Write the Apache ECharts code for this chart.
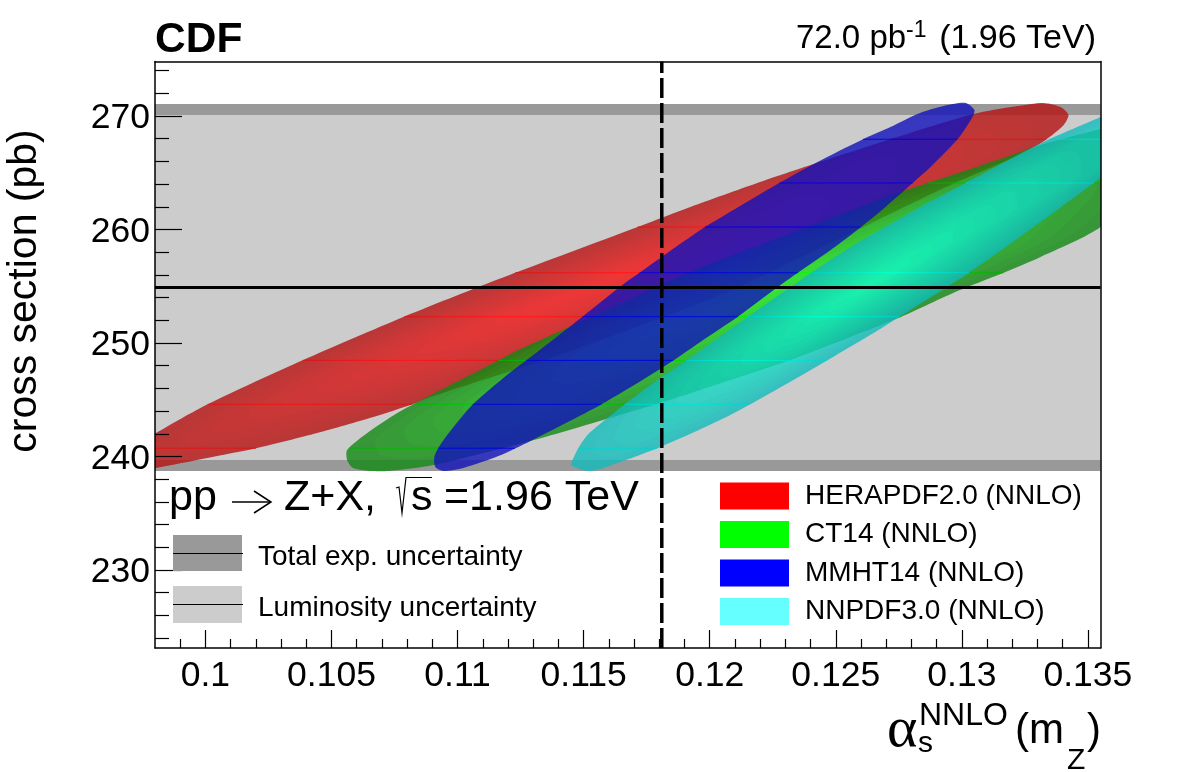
<!DOCTYPE html>
<html>
<head>
<meta charset="utf-8">
<style>html,body{margin:0;padding:0;background:#fff}#main{width:1196px;height:772px}</style>
<script src="https://cdn.jsdelivr.net/npm/echarts@6/dist/echarts.min.js"></script>
</head>
<body>
<div id="main"></div>
<script>
// axis ticks
var xMajor = [0.1, 0.105, 0.11, 0.115, 0.12, 0.125, 0.13, 0.135];
var xMinor = [0.099, 0.101, 0.102, 0.103, 0.104, 0.106, 0.107, 0.108, 0.109, 0.111, 0.112, 0.113, 0.114, 0.116, 0.117, 0.118, 0.119,
  0.121, 0.122, 0.123, 0.124, 0.126, 0.127, 0.128, 0.129, 0.131, 0.132, 0.133, 0.134];
var yMajor = [230, 240, 250, 260, 270];
var yMinor = [224, 226, 228, 232, 234, 236, 238, 242, 244, 246, 248, 252, 254, 256, 258, 262, 264, 266, 268, 272, 274];

// measurement
var crossSection = 254.9;
var alphaS = 0.1181;
var expBands = [[238.72, 239.69], [270.09, 271.06]];
var lumiBands = [[239.69, 270.09]];

// outlines of the contours (alpha_s, sigma)
var heraOutline = [[0.0963,238.81],[0.09642,239.87],[0.09701,240.57],[0.09804,242.07],[0.10011,244.63],[0.10388,248.5],[0.10785,252.29],
  [0.11102,255.11],[0.11237,256.26],[0.11725,260.31],[0.11923,261.98],[0.12189,264.1],[0.12412,265.77],[0.12757,268.24],[0.13046,270.18],
  [0.13221,270.88],[0.13324,271.15],[0.13392,270.79],[0.13423,270.09],[0.13404,269.21],[0.13332,267.89],[0.13245,266.74],[0.12955,263.92],
  [0.12666,260.84],[0.12479,258.81],[0.12122,255.02],[0.11991,253.79],[0.11804,252.2],[0.11459,249.38],[0.11201,247.44],[0.11062,246.48],
  [0.10892,245.24],[0.10824,244.63],[0.10666,243.48],[0.10443,242.07],[0.10205,240.75],[0.10007,239.87],[0.09804,238.99],[0.09701,238.63]];
var ct14Outline = [[0.10562,239.69],[0.10562,240.57],[0.10642,242.07],[0.10761,243.83],[0.10864,245.07],[0.11142,248.24],[0.11241,249.38],
  [0.11408,251.06],[0.11459,251.59],[0.11654,253.52],[0.11804,255.11],[0.11991,256.87],[0.12388,260.22],[0.12566,261.72],[0.12757,263.3],
  [0.13046,265.42],[0.13221,266.74],[0.13312,267.44],[0.1355,268.85],[0.13709,269.65],[0.13789,268.33],[0.13749,264.8],[0.1355,260.22],
  [0.13312,257.58],[0.13154,256.08],[0.12983,254.58],[0.12757,252.29],[0.1232,248.5],[0.12082,246.74],[0.11816,244.8],[0.11578,243.22],
  [0.11289,241.37],[0.10904,239.25],[0.10725,238.72],[0.10666,238.72],[0.10586,238.99]];
var mmhtOutline = [[0.10912,239.07],[0.10908,239.96],[0.10931,241.01],[0.10995,242.9],[0.11062,244.63],[0.11201,247.27],[0.11316,249.21],
  [0.11459,251.67],[0.11654,255.11],[0.11804,257.49],[0.11975,260.13],[0.12094,261.72],[0.12269,264.01],[0.12451,266.21],[0.12618,268.06],
  [0.12717,269.03],[0.12824,270.18],[0.12927,270.88],[0.13015,271.15],[0.1305,270.53],[0.13042,269.91],[0.12987,268.06],[0.12876,265.51],[0.12796,263.92],
  [0.12669,261.45],[0.12507,258.63],[0.12281,255.11],[0.1211,252.29],[0.11963,250.09],[0.11804,247.71],[0.11566,244.54],[0.11289,241.37],
  [0.11162,240.04],[0.11023,238.99],[0.10943,238.72]];
var nnpdfOutline = [[0.11451,239.25],[0.11475,240.57],[0.11515,241.89],[0.11594,243.39],[0.11685,244.98],[0.11804,246.92],[0.11876,247.97],
  [0.1215,252.29],[0.12332,255.11],[0.12546,258.28],[0.12757,261.01],[0.12848,262.16],[0.13023,264.19],[0.13245,266.83],[0.1334,267.89],
  [0.1355,269.91],[0.13689,271.41],[0.13789,271.41],[0.13808,268.77],[0.1355,264.54],[0.13285,260.22],[0.13027,256.17],[0.12808,253.08],
  [0.1265,250.88],[0.12332,246.74],[0.12082,243.66],[0.11804,240.84],[0.11578,238.99],[0.11519,238.72],[0.11475,238.99]];

// thin brighter lines that run across the contours
var seamLevels = [240.73, 244.6, 248.47, 252.32, 256.19, 260.22, 264.1, 267.95];

var pdfNames = ['HERAPDF2.0 (NNLO)', 'CT14 (NNLO)', 'MMHT14 (NNLO)', 'NNPDF3.0 (NNLO)'];
var pdfSwatches = ['#ff0000', '#00ff00', '#0000ff', '#66ffff'];

var FONT = '"Liberation Sans", Arial, sans-serif';
var LAYERS = 14;

function bandRender(color) {
  return function (params, api) {
    var a = api.coord([api.value(0), api.value(1)]);
    var rect = api.coord([0.1355, api.value(1)]);
    var top = api.coord([0.1355, api.value(2)]);
    var left = api.coord([0.098, api.value(1)]);
    return {
      type: 'rect',
      shape: {x: left[0], y: top[1], width: rect[0] - left[0], height: a[1] - top[1]},
      style: {fill: color}
    };
  };
}

function outlinePx(outline, api) {
  return outline.map(function (p) { return api.coord(p); });
}

// flat fill of the contour plus the thin lines
function contourRender(outline, base, seam) {
  return function (params, api) {
    if (params.dataIndex > 0) return null;
    var pts = outlinePx(outline, api);
    var children = [{type: 'polygon', shape: {points: pts, smooth: 0.25}, style: {fill: base}}];
    seamLevels.forEach(function (level) {
      var y = api.coord([0.1, level])[1], xs = [];
      for (var j = 0; j < pts.length; j++) {
        var a = pts[j], b = pts[(j + 1) % pts.length];
        if ((a[1] - y) * (b[1] - y) < 0) xs.push(a[0] + (y - a[1]) / (b[1] - a[1]) * (b[0] - a[0]));
      }
      if (xs.length >= 2) {
        children.push({
          type: 'line',
          shape: {x1: Math.min.apply(null, xs), y1: y, x2: Math.max.apply(null, xs), y2: y},
          style: {stroke: seam, lineWidth: 1, opacity: 0.9}
        });
      }
    });
    return {type: 'group', children: children};
  };
}

// nested polygons added on top, the middle gets brighter
function glowRender(outline, glow) {
  return function (params, api) {
    if (params.dataIndex > 0) return null;
    var pts = outlinePx(outline, api);
    var minX = 1e9, maxX = -1e9, minY = 1e9, maxY = -1e9;
    pts.forEach(function (p) {
      minX = Math.min(minX, p[0]); maxX = Math.max(maxX, p[0]);
      minY = Math.min(minY, p[1]); maxY = Math.max(maxY, p[1]);
    });
    var cx = (minX + maxX) / 2, cy = (minY + maxY) / 2;
    var children = [];
    for (var i = 1; i < LAYERS; i++) {
      var k = 1 - i / LAYERS;
      children.push({
        type: 'polygon',
        shape: {points: pts.map(function (p) { return [cx + (p[0] - cx) * k, cy + (p[1] - cy) * k]; }), smooth: 0.25},
        style: {fill: glow}
      });
    }
    return {type: 'group', children: children};
  };
}

function txt(str, x, y, size, extra) {
  var style = {text: str, x: x, y: y, font: (extra && extra.weight ? extra.weight + ' ' : '') + size + 'px ' + FONT, fill: '#000',
    textAlign: (extra && extra.align) || 'left', textVerticalAlign: 'middle'};
  return {type: 'text', z: 20, style: style};
}
function lineEl(points, width) {
  return {type: 'polyline', z: 20, shape: {points: points}, style: {stroke: '#000', lineWidth: width, fill: null}};
}
function swatch(x, y, w, h, color) {
  return {type: 'rect', z: 19, shape: {x: x, y: y, width: w, height: h}, style: {fill: color}};
}

var graphics = [
  txt('CDF', 155, 40, 42.5, {weight: 'bold'}),
  txt('72.0 pb', 796, 39, 33),
  txt('-1', 906, 31, 23),
  txt('(1.96 TeV)', 1096, 39, 34, {align: 'right'}),

  txt('pp', 169, 498, 43),
  lineEl([[232, 502], [271, 502]], 1.5),
  lineEl([[254, 491], [271, 502], [254, 513]], 1.5),
  txt('Z+X,', 284, 498, 43),
  lineEl([[396, 488], [399, 487], [402, 513], [406, 477.5], [432, 477.5]], 1.2),
  txt('s', 411, 498, 43),
  txt('=1.96 TeV', 444, 498, 43),

  swatch(173, 535, 69, 36, '#999999'),
  lineEl([[173, 553.5], [243, 553.5]], 1),
  swatch(173, 586, 69, 37, '#cccccc'),
  lineEl([[173, 604.5], [243, 604.5]], 1),
  txt('Total exp. uncertainty', 258, 557, 28),
  txt('Luminosity uncertainty', 258, 608, 28),

  {type: 'text', z: 20, style: {text: '\u03b1', x: 887, y: 731, font: '58px "Liberation Serif", serif', fill: '#000', textVerticalAlign: 'middle'}},
  txt('s', 918, 744, 30),
  txt('NNLO', 919, 716, 32),
  txt('(m', 1015, 731, 42),
  txt('Z', 1067, 761, 30),
  txt(')', 1087, 731, 42),
  {type: 'text', z: 20, rotation: Math.PI / 2, x: 25, y: 291,
    style: {text: 'cross section (pb)', x: 0, y: 0, font: '41px ' + FONT, fill: '#000', textAlign: 'center', textVerticalAlign: 'middle'}}
];

function contourSeries(name, outline, base, seam) {
  return {name: name, type: 'custom', coordinateSystem: 'cartesian2d', xAxisIndex: 0, yAxisIndex: 0, z: 2, clip: true,
    data: outline, encode: {x: 0, y: 1}, silent: true, renderItem: contourRender(outline, base, seam)};
}
function glowSeries(outline, glow) {
  return {type: 'custom', coordinateSystem: 'cartesian2d', xAxisIndex: 0, yAxisIndex: 0, z: 2, clip: true, blendMode: 'lighter',
    data: outline, encode: {x: 0, y: 1}, silent: true, renderItem: glowRender(outline, glow)};
}

var myChart = echarts.init(document.getElementById('main'));
var axisLine = {show: true, onZero: false, lineStyle: {color: '#000', width: 1.5}};
myChart.setOption({
  animation: false,
  backgroundColor: '#fff',
  grid: {left: 155, top: 61.5, width: 945.5, height: 586.5, show: false},
  xAxis: [
    {type: 'value', min: 0.098, max: 0.1355, position: 'bottom', z: 5, splitLine: {show: false}, axisLine: axisLine,
      axisTick: {inside: true, length: 18, customValues: xMajor, lineStyle: {color: '#000', width: 1.2}},
      axisLabel: {customValues: xMajor, margin: 10, fontSize: 35.5, fontFamily: FONT, color: '#000', formatter: function (v) { return String(v); }}},
    {type: 'value', min: 0.098, max: 0.1355, position: 'bottom', z: 5, splitLine: {show: false}, axisLine: {show: false},
      axisTick: {inside: true, length: 9, customValues: xMinor, lineStyle: {color: '#000', width: 1.2}}, axisLabel: {show: false}},
    {type: 'value', min: 0.098, max: 0.1355, position: 'top', z: 5, splitLine: {show: false}, axisLine: axisLine,
      axisTick: {show: false}, axisLabel: {show: false}}
  ],
  yAxis: [
    {type: 'value', min: 223.13, max: 274.8, position: 'left', z: 5, splitLine: {show: false}, axisLine: axisLine,
      axisTick: {inside: true, length: 27, customValues: yMajor, lineStyle: {color: '#000', width: 1.2}},
      axisLabel: {customValues: yMajor, margin: 5, color: '#000', formatter: function (v) { return '{v|' + v + '}'; },
        rich: {v: {fontSize: 35.5, fontFamily: FONT, color: '#000', padding: [5, 0, 0, 0]}}}},
    {type: 'value', min: 223.13, max: 274.8, position: 'left', z: 5, splitLine: {show: false}, axisLine: {show: false},
      axisTick: {inside: true, length: 14, customValues: yMinor, lineStyle: {color: '#000', width: 1.2}}, axisLabel: {show: false}},
    {type: 'value', min: 223.13, max: 274.8, position: 'right', z: 5, splitLine: {show: false}, axisLine: axisLine,
      axisTick: {show: false}, axisLabel: {show: false}}
  ],
  legend: {
    left: 720, top: 482, orient: 'vertical', padding: 0, itemWidth: 69, itemHeight: 27, itemGap: 10.5, icon: 'rect', selectedMode: false,
    textStyle: {fontSize: 28, lineHeight: 27, fontFamily: FONT, color: '#000', padding: [0, 0, 0, 11]},
    data: pdfNames.map(function (n, i) { return {name: n, itemStyle: {color: pdfSwatches[i], opacity: 1, borderWidth: 0}}; })
  },
  graphic: graphics,
  series: [
    {type: 'custom', xAxisIndex: 0, yAxisIndex: 0, z: 1, clip: true, silent: true, data: lumiBands.map(function (b) { return [0.1, b[0], b[1]]; }),
      renderItem: bandRender('#cccccc')},
    {type: 'custom', xAxisIndex: 0, yAxisIndex: 0, z: 1, clip: true, silent: true, data: expBands.map(function (b) { return [0.1, b[0], b[1]]; }),
      renderItem: bandRender('#999999')},
    contourSeries(pdfNames[0], heraOutline, 'rgba(180,17,17,0.8)', '#dc1414'),
    glowSeries(heraOutline, 'rgb(4,0,0)'),
    contourSeries(pdfNames[1], ct14Outline, 'rgba(17,136,17,0.8)', '#00b400'),
    glowSeries(ct14Outline, 'rgb(0,6,0)'),
    contourSeries(pdfNames[2], mmhtOutline, 'rgba(17,17,186,0.8)', '#0000e0'),
    glowSeries(mmhtOutline, 'rgb(0,0,1)'),
    contourSeries(pdfNames[3], nnpdfOutline, 'rgba(17,186,186,0.8)', '#00d2d2'),
    glowSeries(nnpdfOutline, 'rgb(0,4,1)'),
    {type: 'line', xAxisIndex: 0, yAxisIndex: 0, z: 3, symbol: 'none', silent: true,
      data: [[0.098, crossSection], [0.1355, crossSection]], lineStyle: {color: '#000', width: 3}},
    {type: 'line', xAxisIndex: 0, yAxisIndex: 0, z: 3, symbol: 'none', silent: true,
      data: [[alphaS, 223.13], [alphaS, 274.8]], lineStyle: {color: '#000', width: 3.5, type: [20, 5]}}
  ]
});
</script>
</body>
</html>
